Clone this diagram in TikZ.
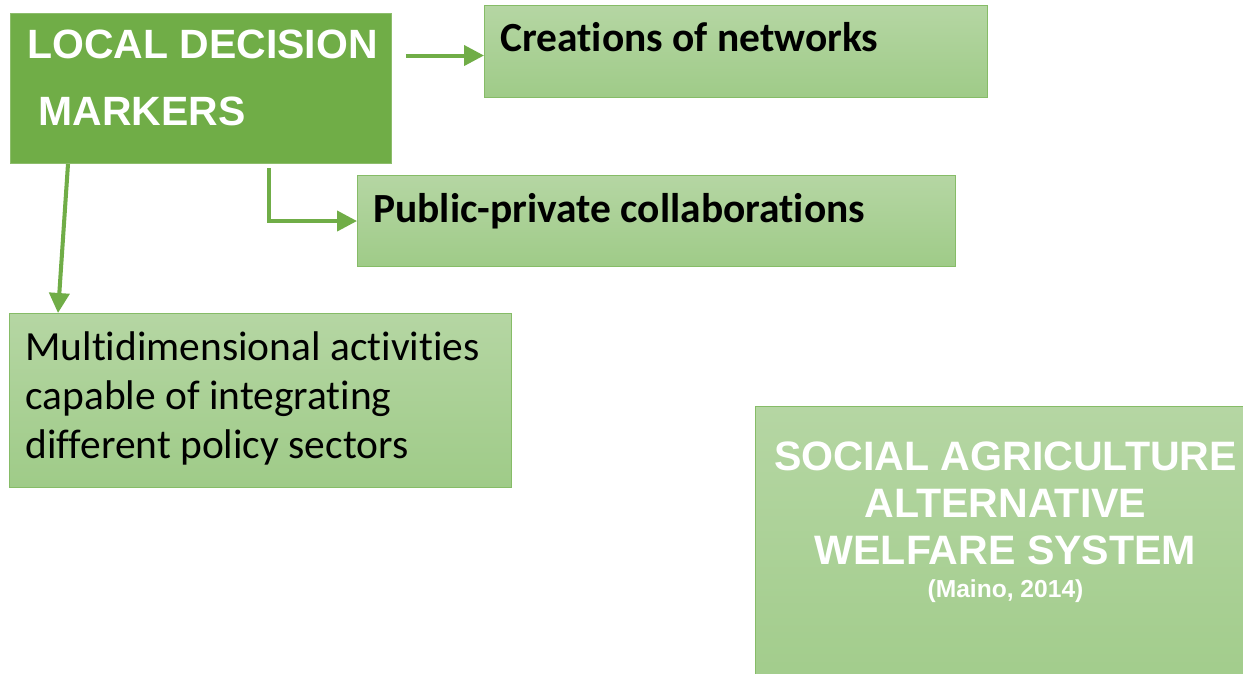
\documentclass[tikz,border=0pt]{standalone}
\usepackage{fontspec}
\setmainfont{Carlito}[Ligatures=NoCommon]
\newfontfamily\arialfont{Liberation Sans}
\usepackage{tikz}
\usetikzlibrary{arrows.meta, calc, positioning}
\definecolor{leafgreen}{HTML}{70AD47}
\definecolor{paletop}{HTML}{B5D6A3}
\definecolor{palebottom}{HTML}{9FCB88}
\definecolor{paleborder}{HTML}{86BC67}
\tikzset{
    darkbox/.style={rectangle, fill=leafgreen, draw=leafgreen!80!white, line width=0.6pt, anchor=north west, inner sep=0pt},
    palebox/.style={rectangle, top color=paletop, bottom color=palebottom, draw=paleborder, line width=0.6pt, anchor=north west, inner sep=0pt},
    boxtext/.style={inner sep=0pt, align=left, anchor=base west, font=\fontsize{23.6}{27.8}\selectfont},
    whitetext/.style={inner sep=0pt, text=white, font=\arialfont\bfseries\fontsize{23.4}{26.7}\selectfont},
    conn/.style={draw=leafgreen, line width=2.3pt, -{Triangle[length=0.4cm, width=0.4cm]}},
}

\begin{document}
\begin{tikzpicture}[x=0.02cm, y=-0.02cm]
    \clip (0,0) rectangle (1243,673);
    % boxes
    \node[darkbox, minimum width=7.62cm, minimum height=3cm] (ldm) at (10,13) {};
    \node[palebox, minimum width=10.06cm, minimum height=1.84cm] (net) at (484,5) {};
    \node[palebox, minimum width=11.96cm, minimum height=1.82cm] (pub) at (357,175) {};
    \node[palebox, minimum width=10.04cm, minimum height=3.48cm] (multi) at (9,313) {};
    \node[palebox, minimum width=10cm, minimum height=6.4cm] (social) at (755,406) {};
    % texts (base = last line)
    \node[whitetext, align=left, anchor=base west, font=\arialfont\bfseries\fontsize{23.3}{38}\selectfont] (ldmtext) at ($(ldm.north west)+(17,112)$) {LOCAL DECISION\\~MARKERS};
    \node[boxtext, font=\bfseries\fontsize{23.6}{27.8}\selectfont] (nettext) at ($(net.north west)+(16,46)$) {Creations of networks};
    \node[boxtext, font=\bfseries\fontsize{23.6}{27.8}\selectfont] (pubtext) at ($(pub.north west)+(16,47)$) {Public-private collaborations};
    \node[boxtext] (multitext) at ($(multi.north west)+(16,145)$) {Multidimensional activities\\capable of integrating\\different policy sectors};
    \node[whitetext, align=center, anchor=base] (socialtext) at ($(social.north)+(0,158)$) {SOCIAL AGRICULTURE\\ALTERNATIVE\\WELFARE SYSTEM};
    \node[whitetext, anchor=base, font=\arialfont\bfseries\fontsize{14}{16}\selectfont] (cite) at ($(social.north)+(0,191)$) {(Maino, 2014)};
    % arrows
    \draw[conn] ($(ldm.east |- net.west)+(14,4)$) -- ($(net.west)+(0,4)$);
    \draw[conn] ($(ldm.south)+(68,4)$) |- (pub.west);
    \draw[conn] ($(ldm.south west)+(58,0)$) -- ($(multi.north west)+(49,0)$);
\end{tikzpicture}
\end{document}
